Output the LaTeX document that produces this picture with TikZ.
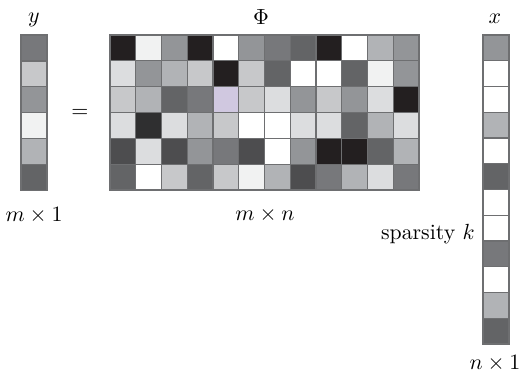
\documentclass[tikz,border=0pt]{standalone}
\usepackage{tikz}
% gray levels used by the cells
\definecolor{mK}{HTML}{231F20}
\definecolor{mJ}{HTML}{2F2F30}
\definecolor{mH}{HTML}{4D4D4F}
\definecolor{mG}{HTML}{636466}
\definecolor{mF}{HTML}{77787B}
\definecolor{mE}{HTML}{939598}
\definecolor{mD}{HTML}{B1B3B6}
\definecolor{mC}{HTML}{C7C8CA}
\definecolor{mB}{HTML}{DCDDDF}
\definecolor{mA}{HTML}{F1F2F2}
\definecolor{mW}{HTML}{FFFFFF}
\definecolor{mL}{HTML}{D0C8E0}
\definecolor{cellline}{HTML}{6E6F71}
\tikzset{
  cell/.style={draw=cellline, line width=0.6pt},
  lbl/.style={inner sep=0pt, font=\fontsize{10.9}{13}\selectfont}
}
\begin{document}
\begin{tikzpicture}[x=0.5pt, y=-0.5pt]
\useasboundingbox (0,0) rectangle (520,374);
% measurement vector y
\foreach \c [count=\k from 0] in {F,C,E,A,D,G}
  \filldraw[cell, fill=m\c] (21,35+\k*25.95) rectangle ++(26,25.95);
% sensing matrix Phi
\foreach \row [count=\r from 0] in {
  {K,A,E,K,W,E,F,G,K,W,D,E},
  {B,E,D,C,K,C,G,W,W,G,A,E},
  {C,D,G,F,L,C,B,E,C,E,B,K},
  {B,J,B,D,C,W,W,B,B,G,D,B},
  {H,B,H,E,F,H,W,E,K,K,G,D},
  {G,W,C,G,C,A,D,H,F,D,B,F}}
  \foreach \c [count=\k from 0] in \row
    \filldraw[cell, fill=m\c] (110+\k*25.75,35+\r*25.85) rectangle ++(25.75,25.85);
% sparse vector x
\foreach \c [count=\k from 0] in {E,W,W,D,W,G,W,W,F,W,D,G}
  \filldraw[cell, fill=m\c] (483,35+\k*25.75) rectangle ++(26,25.75);
% labels
\node[lbl] (ylab) at (34,20) {$y$};
\node[lbl] (philab) at (261,17.5) {$\Phi$};
\node[lbl] (xlab) at (495,19) {$x$};
\node[lbl] (eq) at (80,113) {$=$};
\node[lbl] (ydim) at (34,215) {$m\times 1$};
\node[lbl] (phidim) at (265,215) {$m\times n$};
\node[lbl, anchor=east] (spars) at (475,234) {sparsity $k$};
\node[lbl] (xdim) at (495,363) {$n\times 1$};
\end{tikzpicture}
\end{document}
